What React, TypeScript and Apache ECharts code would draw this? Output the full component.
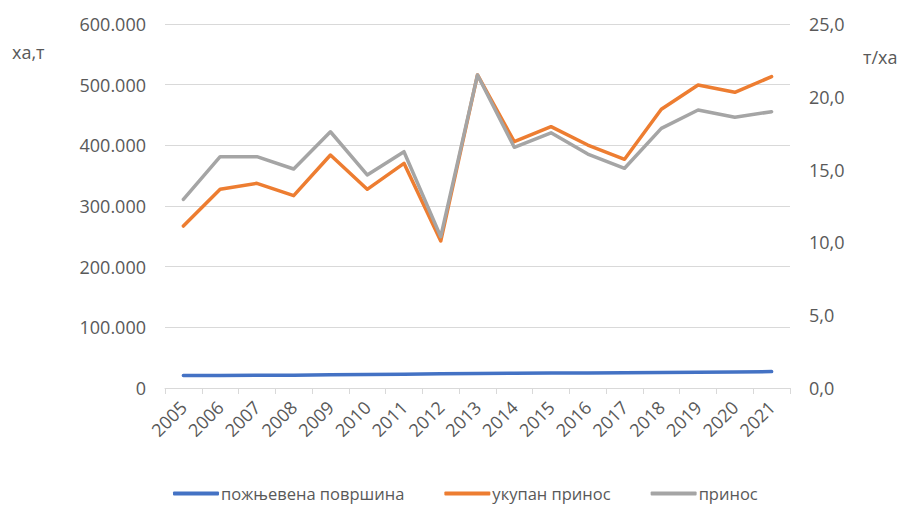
import React, { useEffect, useRef } from "react";
import * as echarts from "echarts";

const years = ["2005","2006","2007","2008","2009","2010","2011","2012","2013","2014","2015","2016","2017","2018","2019","2020","2021"];
const harvestedArea = [20600, 20600, 21200, 21100, 21800, 22400, 22800, 23300, 24000, 24500, 24600, 24900, 25000, 25700, 26100, 26200, 27000];
const totalYield = [267000, 327500, 337400, 317000, 384000, 327500, 370300, 242300, 516000, 406000, 430800, 400500, 377000, 459400, 499500, 487400, 513200];
const yieldPerHa = [12.96, 15.89, 15.89, 15.04, 17.6, 14.63, 16.23, 10.4, 21.5, 16.53, 17.53, 16.07, 15.09, 17.83, 19.09, 18.59, 18.98];
const seriesNames = ["пожњевена површина", "укупан принос", "принос"];
const leftAxisName = "ха,т";
const rightAxisName = "т/ха";

const FONT = "'Open Sans', 'Noto Sans', sans-serif";
const LABEL = "#595959";

export default function App() {
  const ref = useRef<HTMLDivElement>(null);
  useEffect(() => {
    document.body.style.margin = "0";
    const chart = echarts.init(ref.current!, null, { renderer: "svg" });
    chart.setOption({
      animation: false,
      backgroundColor: "#ffffff",
      textStyle: { fontFamily: FONT },
      grid: { left: 165, right: 113, top: 24, bottom: 120, containLabel: false },
      legend: {
        left: 168,
        top: 482,
        padding: [3, 5, 3, 5],
        itemWidth: 46,
        itemHeight: 4,
        itemGap: 40,
        icon: "roundRect",
        textStyle: { fontSize: 16.5, color: LABEL, fontFamily: FONT, padding: [0, 0, 0, -3] },
        data: seriesNames,
      },
      graphic: [
        { type: "text", left: 12, top: 43, style: { text: leftAxisName, fontSize: 18, fill: LABEL, fontFamily: FONT } },
        { type: "text", left: 863, top: 48, style: { text: rightAxisName, fontSize: 18, fill: LABEL, fontFamily: FONT } },
      ],
      xAxis: {
        type: "category",
        data: years,
        boundaryGap: true,
        axisLine: { lineStyle: { color: "#D9D9D9", width: 1 } },
        axisTick: { show: true, length: 6, lineStyle: { color: "#D9D9D9" } },
        axisLabel: { rotate: 45, fontSize: 18, color: LABEL, margin: 16, fontFamily: FONT },
      },
      yAxis: [
        {
          type: "value",
          min: 0,
          max: 600000,
          interval: 100000,
          axisLine: { show: false },
          axisTick: { show: false },
          splitLine: { lineStyle: { color: "#D9D9D9", width: 1 } },
          axisLabel: {
            fontSize: 18,
            color: LABEL,
            margin: 19,
            fontFamily: FONT,
            formatter: (v: number) => (v === 0 ? "0" : (v / 1000).toFixed(0) + ".000"),
          },
        },
        {
          type: "value",
          min: 0,
          max: 25,
          interval: 5,
          axisLine: { show: false },
          axisTick: { show: false },
          splitLine: { show: false },
          axisLabel: {
            fontSize: 18,
            color: LABEL,
            margin: 19,
            fontFamily: FONT,
            formatter: (v: number) => v.toFixed(1).replace(".", ","),
          },
        },
      ],
      series: [
        {
          name: seriesNames[0],
          type: "line",
          yAxisIndex: 0,
          data: harvestedArea,
          symbol: "none",
          lineStyle: { color: "#4472C4", width: 3.5, cap: "round", join: "round" },
          itemStyle: { color: "#4472C4" },
        },
        {
          name: seriesNames[1],
          type: "line",
          yAxisIndex: 0,
          data: totalYield,
          symbol: "none",
          lineStyle: { color: "#ED7D31", width: 3.5, cap: "round", join: "round" },
          itemStyle: { color: "#ED7D31" },
        },
        {
          name: seriesNames[2],
          type: "line",
          yAxisIndex: 1,
          data: yieldPerHa,
          symbol: "none",
          lineStyle: { color: "#A5A5A5", width: 3.5, cap: "round", join: "round" },
          itemStyle: { color: "#A5A5A5" },
        },
      ],
    });
    return () => chart.dispose();
  }, []);
  return <div ref={ref} style={{ position: "fixed", left: 0, top: 0, width: 903, height: 508 }} />;
}
